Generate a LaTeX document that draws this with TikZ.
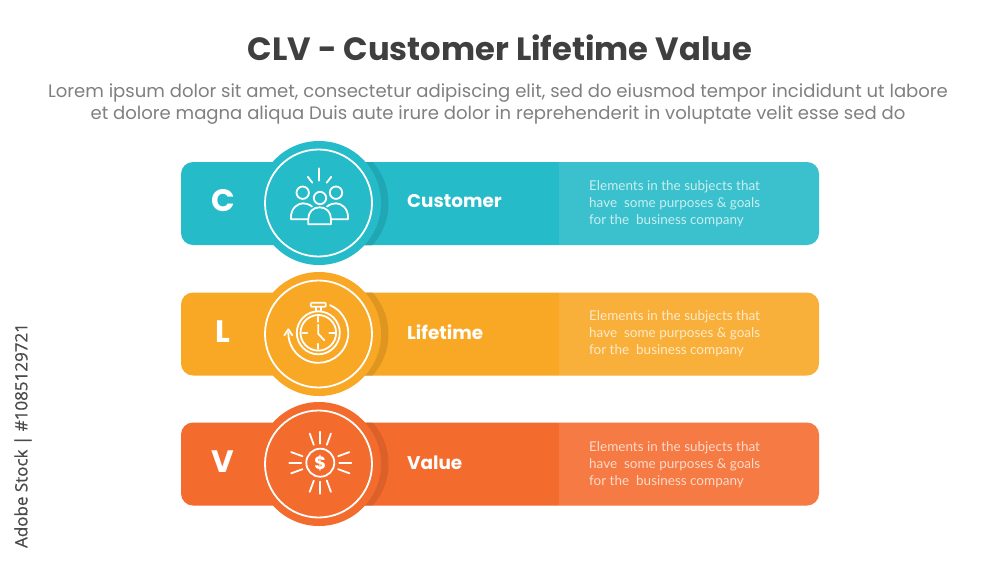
\documentclass[tikz,border=0pt]{standalone}
\usepackage{fontspec}
\setmainfont{Poppins}
\newfontfamily\latofont{Lato}
\newfontfamily\sidefont[FakeBold=0.6]{Open Sans}
\definecolor{clvteal}{HTML}{25BBC8}
\definecolor{clvorange}{HTML}{F9A825}
\definecolor{clvred}{HTML}{F46B2E}
\definecolor{clvtitle}{HTML}{3F3F3F}
\definecolor{clvsub}{HTML}{808080}
\definecolor{clvside}{HTML}{4A4A4A}
\tikzset{
  x=1pt,y=-1pt,
  barbox/.style={minimum width=638pt,minimum height=83pt,rounded corners=12pt,inner sep=0pt},
  disc/.style={circle,minimum size=124pt,inner sep=0pt},
  ring/.style={circle,draw=white,line width=1.8pt,minimum size=107pt,inner sep=0pt},
  letter/.style={text=white,font=\fontsize{31}{31}\selectfont\bfseries},
  head/.style={anchor=west,text=white,inner sep=0pt,font=\fontsize{18.4}{18.4}\selectfont\bfseries},
  desc/.style={anchor=west,text=white,text opacity=.72,inner sep=0pt,align=left,font=\fontsize{13.5}{17}\selectfont\latofont},
  iconline/.style={draw=white,line width=1.8pt,line cap=round,line join=round},
}
\newcommand{\clvshade}[1]{%
  \begin{scope}
    \clip (181,#1-41.5) rectangle (819,#1+41.5);
    \fill[black,opacity=.1] (326.5,#1) circle (62);
  \end{scope}
  \fill[white,opacity=.1] (559,#1-41.5) -- (807,#1-41.5) arc (-90:0:12) -- (819,#1+29.5) arc (0:90:12) -- (559,#1+41.5) -- cycle;
}
\begin{document}
\begin{tikzpicture}
\useasboundingbox (0,0) rectangle (1000,563);
\fill[white] (0,0) rectangle (1000,563);
\node (title) at (500,47.5) [text=clvtitle,font=\fontsize{32.2}{32.2}\selectfont\bfseries] {CLV - Customer Lifetime Value};
\node (sub) at (498,104.5) [text=clvsub,align=center,font=\fontsize{18.05}{22}\selectfont] {Lorem ipsum dolor sit amet, consectetur adipiscing elit, sed do eiusmod tempor incididunt ut labore\\et dolore magna aliqua Duis aute irure dolor in reprehenderit in voluptate velit esse sed do};
\node (side) at (23,435.5) [rotate=90,text=clvside,font=\fontsize{17}{17}\selectfont\sidefont] {Adobe Stock | \#1085129721};
% row C
\node (barC) at (500,203.5) [barbox,fill=clvteal] {};
\clvshade{203.5}
\node (discC) at (319,203) [disc,fill=clvteal] {};
\node (ringC) at (318.5,203) [ring] {};
\node (letC) at (223,201) [letter] {C};
\node (headC) at (407,201.5) [head] {Customer};
\node (descC) at (589,203.5) [desc] {Elements in the subjects that\\have\ \ some purposes \& goals\\for the\ \ business company};
% row L
\node (barL) at (500,334) [barbox,fill=clvorange] {};
\clvshade{334}
\node (discL) at (319,334) [disc,fill=clvorange] {};
\node (ringL) at (318.5,334) [ring] {};
\node (letL) at (223,332) [letter] {L};
\node (headL) at (407,332.5) [head] {Lifetime};
\node (descL) at (589,334) [desc] {Elements in the subjects that\\have\ \ some purposes \& goals\\for the\ \ business company};
% row V
\node (barV) at (500,464) [barbox,fill=clvred] {};
\clvshade{464}
\node (discV) at (319,464) [disc,fill=clvred] {};
\node (ringV) at (318.5,464) [ring] {};
\node (letV) at (223,462) [letter] {V};
\node (headV) at (407,463) [head] {Value};
\node (descV) at (589,464.5) [desc] {Elements in the subjects that\\have\ \ some purposes \& goals\\for the\ \ business company};
% icon C
\draw[iconline] (319.3,168.3) -- (319.3,180.7);
\draw[iconline] (307.7,176.7) -- (312.3,182.7);
\draw[iconline] (331.3,176.7) -- (326.7,182.7);
\draw[iconline] (302.7,192.7) circle (6.2);
\draw[iconline] (336,192.7) circle (6.2);
\draw[iconline] (320,198) circle (6.2);
\draw[iconline] (308,219.3) -- (291,219.3) -- (291,217) .. controls (291,208) and (298,203.3) .. (303,203.3) .. controls (306,203.3) and (309,204.3) .. (312,206.5);
\draw[iconline] (331,219.3) -- (348,219.3) -- (348,217) .. controls (348,208) and (341,203.3) .. (336,203.3) .. controls (333,203.3) and (330,204.3) .. (327,206.5);
\draw[iconline] (308.3,224.3) -- (331,224.3) -- (331,219) .. controls (331,212) and (326,207.3) .. (319.6,207.3) .. controls (313,207.3) and (308.3,212) .. (308.3,219) -- cycle;
% icon L
\begin{scope}[shift={(318.3,332.8)}]
  \draw[iconline] (0,0) circle (21.5);
  \draw[iconline] (0,0) circle (17.8);
  \draw[iconline] (-2.5,-26) -- (-2.5,-21.5);
  \draw[iconline] (2.5,-26) -- (2.5,-21.5);
  \draw[iconline,rounded corners=1pt] (-7.5,-30) rectangle (7.5,-26);
  \draw[iconline] (11.7,-27.6) arc (-67:180:30);
  \draw[iconline] (-34,2.5) -- (-30,-3.5) -- (-26,2.5);
  \draw[iconline] (0,-16) -- (0,-11);
  \draw[iconline] (0,16) -- (0,11);
  \draw[iconline] (-16,0) -- (-11,0);
  \draw[iconline] (16,0) -- (11,0);
  \draw[iconline] (0,-8) -- (0,1) -- (6,7.5);
\end{scope}
% icon V
\begin{scope}[shift={(320.3,462.7)}]
  \draw[iconline] (0,0) circle (14);
  \node (dollar) at (0,0) [text=white,inner sep=0pt,font=\fontsize{18}{18}\selectfont\bfseries] {\$};
  \foreach \a in {-90,-70,-110,90,70,110,0,20,-20,180,160,200}
    \draw[iconline] (\a:19) -- (\a:31);
\end{scope}
\end{tikzpicture}
\end{document}
